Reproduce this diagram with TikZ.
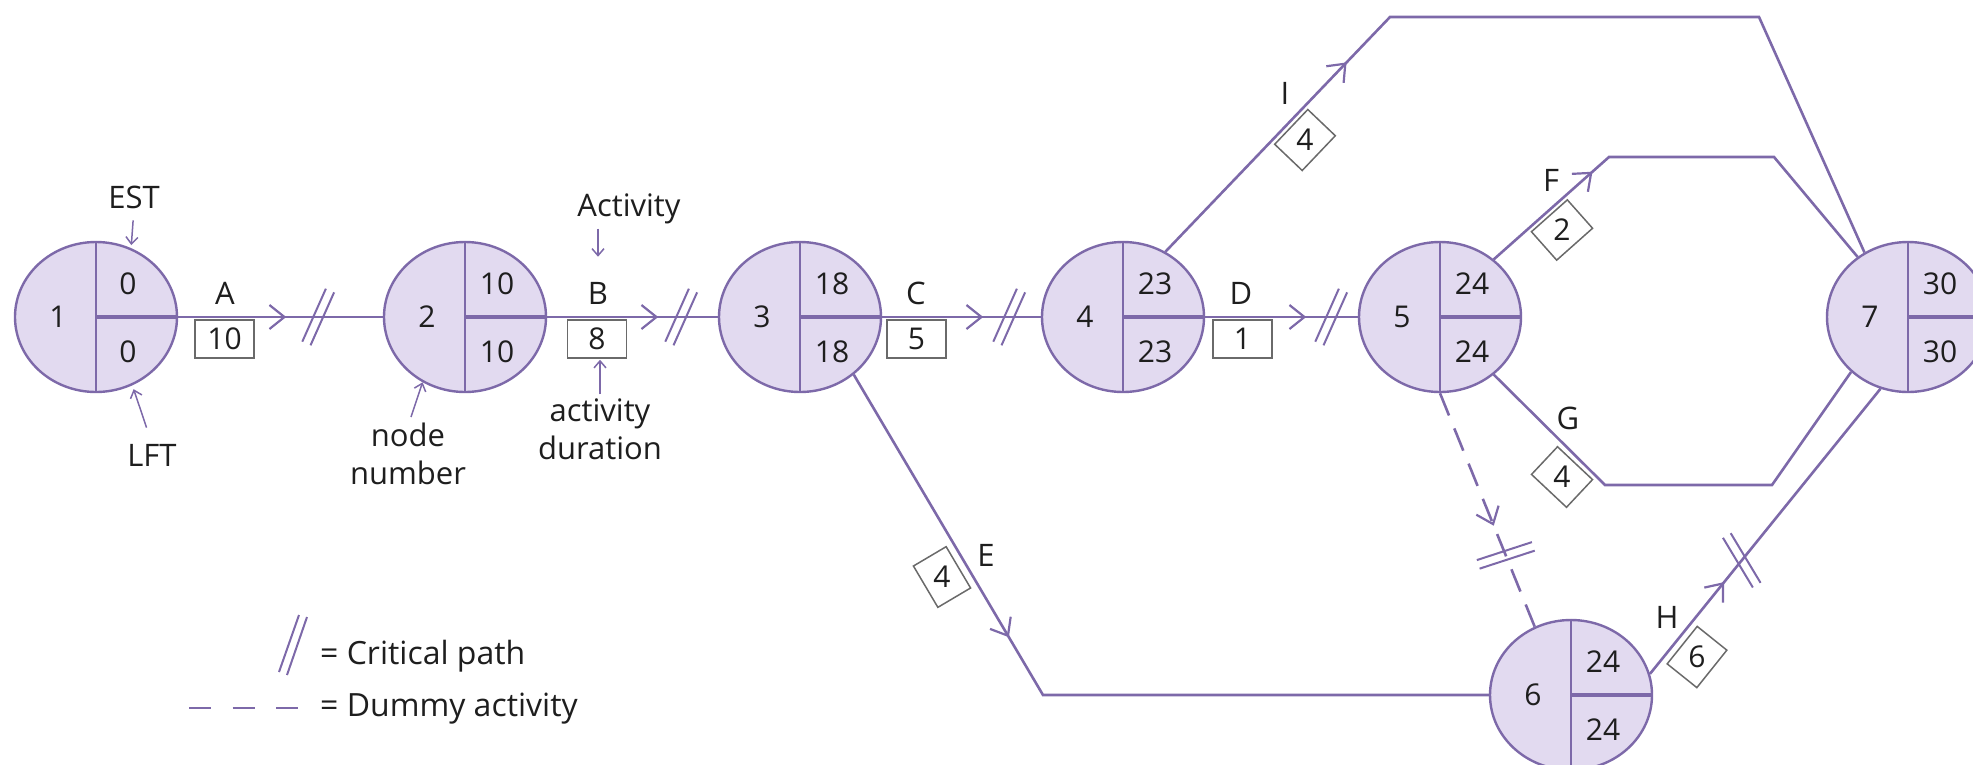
\documentclass[tikz,border=0pt]{standalone}
\usepackage{fontspec}
\setmainfont{Open Sans}
\usetikzlibrary{shapes.geometric,arrows.meta,decorations.markings,calc}
\definecolor{pline}{HTML}{7D69A9}
\definecolor{pfill}{HTML}{E2DAF0}
\definecolor{boxc}{HTML}{6A6A6A}
\definecolor{txtc}{HTML}{1E1E1E}
\tikzset{
  evt/.style={ellipse, draw=pline, fill=pfill, line width=2.4pt, minimum width=162pt, minimum height=150pt, inner sep=0pt},
  divv/.style={draw=pline, line width=2.4pt},
  divh/.style={draw=pline, line width=3.4pt},
  txt/.style={font=\fontsize{30}{38}\selectfont, text=txtc, inner sep=0pt, text depth=0pt},
  lab/.style={txt, font=\fontsize{31}{38}\selectfont},
  leg/.style={txt, font=\fontsize{32}{38}\selectfont},
  edge/.style={draw=pline, line width=2.6pt, line join=miter},
  hbox/.style={draw=boxc, line width=1.5pt, minimum width=59pt, minimum height=38pt, inner sep=0pt, fill=white, font=\fontsize{30}{38}\selectfont, text=txtc},
  dbox/.style={draw=boxc, line width=1.5pt, minimum width=48pt, minimum height=38pt, inner sep=0pt, fill=white},
  arrowat/.style={postaction={decorate, decoration={markings, mark=at position #1 with {\arrow[pline, line width=2.2pt]{Straight Barb[length=15pt,width=24pt]}}}}},
  critline/.style={draw=pline, line width=2pt, solid},
  critat/.style 2 args={postaction={decorate, decoration={markings, mark=at position #1 with {\draw[critline, rotate=#2] (-29,-4.5) -- (29,-4.5) (-29,4.5) -- (29,4.5);}}}},
  ann/.style={draw=pline, line width=1.5pt, -{Straight Barb[length=7pt,width=12pt]}},
  dummy/.style={edge, dash pattern=on 24pt off 14pt},
}
\newcommand{\eventnode}[5]{%
  \node[evt] (#1) at (#2) {};
  \draw[divv] (#1.north) -- (#1.south);
  \draw[divh] (#1.center) -- (#1.east);
  \node[txt] (#1n) at ($(#1.center)+(-38,0)$) {#3};
  \node[txt] (#1e) at ($(#1.center)+(32,-33)$) {#4};
  \node[txt] (#1l) at ($(#1.center)+(32,35)$) {#5};
}
\begin{document}
\begin{tikzpicture}[x=1pt, y=-1pt]
\useasboundingbox (0,0) rectangle (1973,764);

% event nodes
\eventnode{N1}{96,317}{1}{0}{0}
\eventnode{N2}{465,317}{2}{10}{10}
\eventnode{N3}{800,317}{3}{18}{18}
\eventnode{N4}{1123,317}{4}{23}{23}
\eventnode{N5}{1440,317}{5}{24}{24}
\eventnode{N7}{1908,317}{7}{30}{30}
\eventnode{N6}{1571,695}{6}{24}{24}

% corner coordinates
\coordinate (E1) at (1043,695);
\coordinate (I1) at (1390,17);
\coordinate (I2) at (1759,17);
\coordinate (F1) at (1609,157);
\coordinate (F2) at (1774,157);
\coordinate (G1) at (1605,485);
\coordinate (G2) at (1772,485);

% activities
\draw[edge, arrowat=108pt, critat={140pt}{66}] (N1.east) -- (N2.west);
\draw[edge, arrowat=111pt, critat={134pt}{66}] (N2.east) -- (N3.west);
\draw[edge, arrowat=101pt, critat={127pt}{66}] (N3.east) -- (N4.west);
\draw[edge, arrowat=101pt, critat={126pt}{66}] (N4.east) -- (N5.west);
\draw[edge, arrowat=305pt] (N3.-47) -- (E1) -- (N6.west);
\draw[edge, arrowat=262pt] (N4.57) -- (I1) -- (I2) -- (N7.124);
\draw[edge, arrowat=132pt] (N5.47) -- (F1) -- (F2) -- (N7.130);
\draw[edge] (N5.-47) -- (G1) -- (G2) -- (N7.-136);
\draw[edge, arrowat=118pt, critat={146pt}{70}] (N6.15) -- (N7.-111);
\draw[dummy, arrowat=143pt, critat={175pt}{86}] (N5.south) -- (N6.118);

% activity labels
\node[lab] (Alab) at (225,293) {A};
\node[lab] (Blab) at (598,293) {B};
\node[lab] (Clab) at (916,293) {C};
\node[lab] (Dlab) at (1241,293) {D};
\node[lab] (Ilab) at (1285,93) {I};
\node[lab] (Flab) at (1551,180) {F};
\node[lab] (Glab) at (1568,418) {G};
\node[lab] (Elab) at (986,555) {E};
\node[lab] (Hlab) at (1667,617) {H};

% duration boxes
\node[hbox] (Abox) at (224.5,339) {10};
\node[hbox] (Bbox) at (597,339) {8};
\node[hbox] (Cbox) at (916.5,339) {5};
\node[hbox] (Dbox) at (1242.5,339) {1};
\node[dbox, rotate=46.4] (Ibox) at (1305,140) {};
\node[txt] (Iboxt) at (Ibox.center) {4};
\node[dbox, rotate=-59.4] (Ebox) at (942,577) {};
\node[txt] (Eboxt) at (Ebox.center) {4};
\node[dbox, rotate=41.6] (Fbox) at (1562,230) {};
\node[txt] (Fboxt) at (Fbox.center) {2};
\node[dbox, rotate=-43.2] (Gbox) at (1562,477) {};
\node[txt] (Gboxt) at (Gbox.center) {4};
\node[dbox, rotate=51.3] (Hbox) at (1697,657) {};
\node[txt] (Hboxt) at (Hbox.center) {6};

% annotations
\node[lab] (EST) at (134,197) {EST};
\draw[ann, shorten <=12pt, shorten >=3pt] (EST.south) -- (N1.63);
\node[lab] (LFT) at (152,455) {LFT};
\draw[ann, shorten <=17pt, shorten >=4pt] (LFT.north) -- (N1.-62);
\node[lab, align=center] (NN) at (408,454) {node\\number};
\draw[ann] ($(NN.north)+(3,-6)$) -- (N2.-123);
\node[lab] (ACT) at (629,205) {Activity};
\draw[ann] ($(ACT.south)+(-31,12)$) -- ($(Blab.north)+(0,-25)$);
\node[lab, align=center] (DUR) at (600,429) {activity\\duration};
\draw[ann, shorten <=4pt, shorten >=1pt] (DUR.north) -- (DUR.north |- Bbox.south);

% legend
\coordinate (LCa1) at (279,672);
\coordinate (LCa2) at (299,615);
\coordinate (LCb1) at (287,675);
\coordinate (LCb2) at (307,617);
\draw[critline] (LCa1) -- (LCa2) (LCb1) -- (LCb2);
\node[leg, anchor=west] (LCrit) at (320,652) {= Critical path};
\coordinate (LD1) at (189,708);
\coordinate (LD2) at (298,708);
\draw[edge, dash pattern=on 22pt off 21.5pt] (LD1) -- (LD2);
\node[leg, anchor=west] (LDum) at (320,705) {= Dummy activity};
\end{tikzpicture}
\end{document}
